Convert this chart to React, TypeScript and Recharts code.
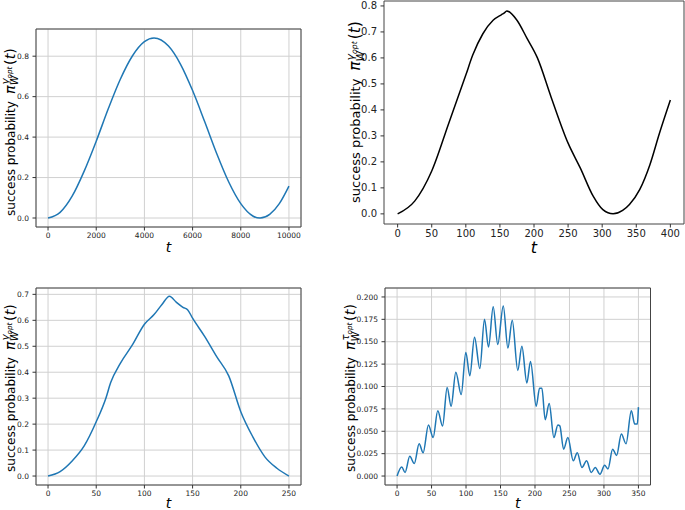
import { LineChart, Line, XAxis, YAxis, CartesianGrid, ReferenceArea } from 'recharts';

// pannello in alto a sinistra: t fino a 10000
const T1 = [0, 500, 1000, 1500, 2000, 2500, 3000, 3500, 4000, 4400, 5000, 5500, 6000, 6500, 7000, 7500, 8000, 8500, 8800, 9200, 9600, 10000];
const P1 = [0, 0.028, 0.108, 0.232, 0.38, 0.54, 0.686, 0.801, 0.872, 0.89, 0.85, 0.76, 0.63, 0.477, 0.319, 0.178, 0.071, 0.01, 0, 0.018, 0.071, 0.158];
const X1_TICKS = [0, 2000, 4000, 6000, 8000, 10000];
const Y1_TICKS = [0, 0.2, 0.4, 0.6, 0.8];

// pannello in alto a destra (linea nera, senza griglia)
const T2 = [0, 25, 50, 75, 100, 110, 125, 140, 152, 156, 160, 175, 190, 205, 225, 250, 268, 287, 301, 316, 330, 340, 355, 370, 384, 400];
const P2 = [0, 0.049, 0.165, 0.349, 0.534, 0.61, 0.693, 0.745, 0.766, 0.772, 0.781, 0.745, 0.674, 0.6, 0.45, 0.272, 0.176, 0.067, 0.016, 0, 0.013, 0.036, 0.093, 0.189, 0.31, 0.438];
const X2_TICKS = [0, 50, 100, 150, 200, 250, 300, 350, 400];
const Y2_TICKS = [0, 0.1, 0.2, 0.3, 0.4, 0.5, 0.6, 0.7, 0.8];

// pannello in basso a sinistra
const T3 = [0, 12.5, 25, 37.5, 50, 60, 65, 75, 87.5, 100, 110, 118, 126, 133, 140, 145, 150, 162.5, 175, 187.5, 200, 212.5, 225, 237.5, 250];
const P3 = [0, 0.017, 0.058, 0.116, 0.209, 0.3, 0.36, 0.434, 0.505, 0.585, 0.622, 0.66, 0.693, 0.67, 0.65, 0.64, 0.608, 0.538, 0.46, 0.386, 0.248, 0.151, 0.074, 0.03, 0];
const X3_TICKS = [0, 50, 100, 150, 200, 250];
const Y3_TICKS = [0, 0.1, 0.2, 0.3, 0.4, 0.5, 0.6, 0.7];

// pannello in basso a destra: curva oscillante
const T4 = [0, 6.8, 11.6, 18.4, 25, 32, 37.8, 45.5, 52.3, 59, 66, 72.6, 78.4, 85.2, 93, 99.7, 105.5, 112.3, 120, 126.8, 132.6, 139.4, 146, 154, 160.7, 167, 175, 181, 188.2, 193.5, 201.8, 206.6, 210, 214.8, 220.6, 227.4, 233.2, 236, 241.5, 247.7, 255.5, 261.3, 268.1, 274.8, 281.6, 287.4, 294.2, 301, 305.8, 312.6, 318.4, 325.2, 332, 339.7, 344.6, 348.4, 350];
const P4 = [0, 0.01, 0.004, 0.022, 0.014, 0.036, 0.026, 0.057, 0.043, 0.073, 0.056, 0.099, 0.078, 0.116, 0.091, 0.138, 0.112, 0.155, 0.12, 0.175, 0.144, 0.189, 0.147, 0.19, 0.143, 0.174, 0.118, 0.145, 0.104, 0.128, 0.078, 0.098, 0.098, 0.063, 0.081, 0.043, 0.057, 0.056, 0.03, 0.043, 0.017, 0.026, 0.0095, 0.017, 0.004, 0.0095, 0.002, 0.012, 0.008, 0.03, 0.023, 0.047, 0.036, 0.073, 0.058, 0.058, 0.077];
const X4_TICKS = [0, 50, 100, 150, 200, 250, 300, 350];
const Y4_TICKS = [0, 0.025, 0.05, 0.075, 0.1, 0.125, 0.15, 0.175, 0.2];

const FONT = '"DejaVu Sans", sans-serif';
const BLU = '#1f77b4';

const toRows = (t: number[], p: number[]) => t.map((x, i) => ({ t: x, p: p[i] }));

// etichetta verticale: success probability  π_W^{sym_opt}(t)
function YTitle({ cx, cy, size, sym }: { cx: number; cy: number; size: number; sym: string }) {
  const s = size;
  const m = s * 1.2; // la parte matematica e' un po' piu' grande
  return (
    <text
      x={cx}
      y={cy + s * 0.36}
      transform={`rotate(-90 ${cx} ${cy})`}
      textAnchor="middle"
      fontFamily={FONT}
      fontSize={s}
      fill="#000"
    >
      <tspan>success probability</tspan>
      <tspan dx={s * 0.6} fontStyle="italic" fontSize={m}>π</tspan>
      <tspan fontStyle="italic" fontSize={m * 0.7} dy={m * 0.25}>W</tspan>
      <tspan fontStyle="italic" fontSize={m * 0.7} dx={-m * 0.7 * 0.9} dy={-m * 0.66}>{sym}</tspan>
      <tspan fontStyle="italic" fontSize={m * 0.5} dy={m * 0.18}>opt</tspan>
      <tspan fontSize={m} dx={m * 0.12} dy={m * 0.23}>(</tspan>
      <tspan fontSize={m} fontStyle="italic">t</tspan>
      <tspan fontSize={m}>)</tspan>
    </text>
  );
}

interface PanelProps {
  rows: { t: number; p: number }[];
  left: number;
  top: number;
  width: number;
  height: number;
  margin: { top: number; right: number; bottom: number; left: number };
  yWidth: number;
  xHeight: number;
  xDomain: [number, number];
  yDomain: [number, number];
  xTicks: number[];
  yTicks: number[];
  yDigits: number;
  tickFont: number;
  color: string;
  grid: boolean;
  yTitle: { cx: number; cy: number; size: number; sym: string };
  xTitle: { x: number; y: number; size: number };
}

function Panel(p: PanelProps) {
  const tick = { fontSize: p.tickFont, fill: '#222', fontFamily: FONT };
  return (
    <div style={{ position: 'absolute', left: p.left, top: p.top }}>
      <LineChart width={p.width} height={p.height} data={p.rows} margin={p.margin}>
        {p.grid && <CartesianGrid stroke="#d0d0d0" strokeWidth={1} />}
        <XAxis
          type="number"
          dataKey="t"
          domain={p.xDomain}
          ticks={p.xTicks}
          interval={0}
          allowDataOverflow
          height={p.xHeight}
          axisLine={false}
          tickSize={3.5}
          tickMargin={2}
          tickLine={{ stroke: '#333' }}
          tick={tick}
          label={{
            content: () => (
              <text x={p.xTitle.x} y={p.xTitle.y} textAnchor="middle" fontFamily={FONT} fontStyle="italic" fontSize={p.xTitle.size} fill="#000">
                t
              </text>
            ),
          }}
        />
        <YAxis
          type="number"
          domain={p.yDomain}
          ticks={p.yTicks}
          interval={0}
          allowDataOverflow
          width={p.yWidth}
          axisLine={false}
          tickSize={3.5}
          tickMargin={3.5}
          tickLine={{ stroke: '#333' }}
          tick={tick}
          tickFormatter={(v: number) => v.toFixed(p.yDigits)}
          label={{ content: () => <YTitle {...p.yTitle} /> }}
        />
        <ReferenceArea
          x1={p.xDomain[0]}
          x2={p.xDomain[1]}
          y1={p.yDomain[0]}
          y2={p.yDomain[1]}
          fill="none"
          fillOpacity={0}
          stroke="#444"
          strokeWidth={1}
          ifOverflow="visible"
        />
        <Line type="monotone" dataKey="p" stroke={p.color} strokeWidth={1.5} dot={false} isAnimationActive={false} />
      </LineChart>
    </div>
  );
}

export default function App() {
  return (
    <div style={{ position: 'absolute', left: 0, top: 0, width: 685, height: 510, background: '#fff', overflow: 'hidden' }}>
      <Panel
        rows={toRows(T1, P1)}
        left={0}
        top={0}
        width={320}
        height={255}
        margin={{ top: 29, right: 19, bottom: 0, left: 0 }}
        yWidth={36}
        xHeight={28}
        xDomain={[-500, 10500]}
        yDomain={[-0.0445, 0.9345]}
        xTicks={X1_TICKS}
        yTicks={Y1_TICKS}
        yDigits={1}
        tickFont={7.5}
        color={BLU}
        grid
        yTitle={{ cx: 10.5, cy: 132, size: 12, sym: 'γ' }}
        xTitle={{ x: 168.5, y: 252, size: 14 }}
      />
      <Panel
        rows={toRows(T2, P2)}
        left={340}
        top={0}
        width={345}
        height={262}
        margin={{ top: 1, right: 1, bottom: 7, left: 0 }}
        yWidth={44}
        xHeight={31}
        xDomain={[-20, 420]}
        yDomain={[-0.039, 0.819]}
        xTicks={X2_TICKS}
        yTicks={Y2_TICKS}
        yDigits={1}
        tickFont={10}
        color="#000"
        grid={false}
        yTitle={{ cx: 15.5, cy: 112, size: 13, sym: 'γ' }}
        xTitle={{ x: 194, y: 253, size: 16 }}
      />
      <Panel
        rows={toRows(T3, P3)}
        left={0}
        top={255}
        width={320}
        height={255}
        margin={{ top: 33, right: 19, bottom: 0, left: 0 }}
        yWidth={36}
        xHeight={25}
        xDomain={[-12.5, 262.5]}
        yDomain={[-0.0345, 0.7245]}
        xTicks={X3_TICKS}
        yTicks={Y3_TICKS}
        yDigits={1}
        tickFont={7.5}
        color={BLU}
        grid
        yTitle={{ cx: 10.5, cy: 133, size: 12, sym: 'γ' }}
        xTitle={{ x: 168.5, y: 253, size: 14 }}
      />
      <Panel
        rows={toRows(T4, P4)}
        left={340}
        top={255}
        width={345}
        height={255}
        margin={{ top: 33, right: 34.5, bottom: 0, left: 0 }}
        yWidth={45}
        xHeight={25}
        xDomain={[-17.5, 367.5]}
        yDomain={[-0.01, 0.21]}
        xTicks={X4_TICKS}
        yTicks={Y4_TICKS}
        yDigits={3}
        tickFont={7.5}
        color={BLU}
        grid
        yTitle={{ cx: 11, cy: 133, size: 12, sym: 'τ' }}
        xTitle={{ x: 177.75, y: 253, size: 14 }}
      />
    </div>
  );
}
